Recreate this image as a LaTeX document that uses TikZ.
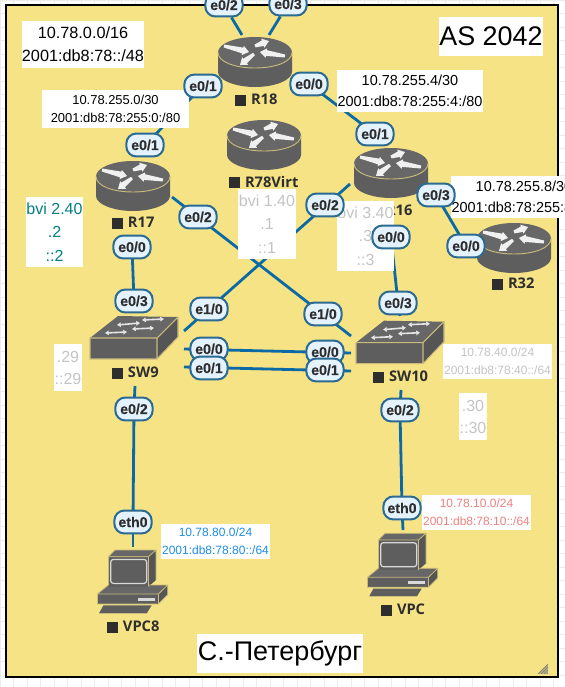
\documentclass[tikz,border=0pt]{standalone}
\usepackage{fontspec}
\setmainfont{Liberation Sans}
\newfontfamily\labfont{Open Sans}
\newfontfamily\pillfont[FakeBold=0.25]{Liberation Sans Bold}
\usetikzlibrary{arrows.meta}
\definecolor{yel}{HTML}{F5E386}
\definecolor{linkc}{HTML}{0B6AA5}
\definecolor{pillfill}{HTML}{E3F2FD}
\definecolor{pilledge}{HTML}{2A6A93}
\definecolor{devdark}{HTML}{5E5E5E}
\definecolor{devtop}{HTML}{676767}
\definecolor{rim}{HTML}{C9BB7C}
\definecolor{labc}{HTML}{2E2E2E}
\definecolor{greyt}{HTML}{C4C4C4}
\definecolor{tealt}{HTML}{008080}
\definecolor{bluet}{HTML}{1E8CE6}
\definecolor{pinkt}{HTML}{F08080}
\pgfdeclarelayer{back}\pgfdeclarelayer{links}\pgfdeclarelayer{dev}\pgfdeclarelayer{boxes}
\pgfsetlayers{back,links,dev,boxes,main}
\newcommand{\tarrow}[4]{%
  \pgfmathsetmacro\tang{atan2(-(#4-(#2)),#3-(#1))}%
  \pgfmathsetmacro\tlen{veclen(#3-(#1),#4-(#2))}%
  \fill[white!94!black,shift={(#1,#2)},rotate=\tang] (0,1.5) -- ({\tlen-6.5},2.9) -- ({\tlen-6.5},4.8) -- (\tlen,0) -- ({\tlen-6.5},-4.8) -- ({\tlen-6.5},-2.9) -- (0,-1.5) -- cycle;}
\tikzset{
  linkline/.style={draw=linkc,line width=2.1pt},
  pill/.style={draw=pilledge,fill=pillfill,line width=1.5pt,rounded corners=7.5pt,minimum width=28pt,minimum height=17.2pt,inner sep=0pt,text=labc,font=\pillfont\fontsize{10.6}{12}\selectfont},
  infobox/.style={fill=white,inner sep=0pt,align=center},
  devlabel/.style={anchor=west,inner sep=0pt,text=labc,font=\labfont\fontsize{11}{12}\selectfont\bfseries},
  devnode/.style={inner sep=0pt,minimum width=50pt,minimum height=36pt},
  thinarrow/.style={draw=white!90!black,line width=1.2pt,{Triangle[length=2.8pt,width=3.4pt]}-{Triangle[length=2.8pt,width=3.4pt]}},
  routerpic/.pic={
    \fill[devdark] (-37,-9.5) -- (-37,10) .. controls (-37,18) and (-20,25) .. (0,25) .. controls (20,25) and (37,18) .. (37,10) -- (37,-9.5) -- cycle;
    \fill[devtop] (0,-9.5) ellipse [x radius=37,y radius=15.5];
    \draw[rim,line width=.7pt] (-37,-9.5) .. controls (-37,0) and (-20,6) .. (0,6) .. controls (20,6) and (37,0) .. (37,-9.5);
    \tarrow{-31}{-16}{-6}{-10}
    \tarrow{0}{-16}{14}{-21}
    \tarrow{30}{-6}{5}{-10}
    \tarrow{-1}{-8}{-15}{3}
  },
  switchpic/.pic={
    \fill[devdark] (-44,0) -- (23,0) -- (23,21) -- (-44,21) -- cycle;
    \fill[devtop] (-44,0) -- (23,0) -- (44,-21) -- (-16,-22) -- cycle;
    \fill[devdark!90!black] (23,0) -- (44,-21) -- (44,-1) -- (23,21) -- cycle;
    \draw[rim,line width=.8pt,line join=round] (-44,21) -- (-44,0) -- (23,0) -- (23,21) -- (-44,21) (23,0) -- (44,-21) -- (44,-1) -- (23,21);
    \draw[thinarrow] (-17,-13) -- (6,-15);
    \draw[thinarrow] (8,-18) -- (30,-19);
    \draw[thinarrow] (-29,-5) -- (-7,-6);
    \draw[thinarrow] (-2,-9) -- (20,-10);
  },
  pcpic/.pic={
    \fill[devtop] (-24.3,-25) -- (-17.7,-31.7) -- (23.3,-31.7) -- (15.7,-25) -- cycle;
    \fill[devdark!90!black] (15.7,-25) -- (23.3,-31.7) -- (23.3,-1.7) -- (15.7,5) -- cycle;
    \fill[devtop] (-35.3,12.3) -- (-24.3,3.3) -- (35,3.3) -- (25.7,12.3) -- cycle;
    \fill[devdark!90!black] (25.7,12.3) -- (35,3.3) -- (35,13) -- (25.7,22.3) -- cycle;
    \fill[devdark] (-35.3,12.3) rectangle (25.7,22.3);
    \fill[devdark] (-24.3,-25) rectangle (15.7,5);
    \draw[rim,line width=.6pt,line join=round] (-24.3,3.3) -- (-24.3,-25) -- (15.7,-25) -- (15.7,5) (15.7,-25) -- (23.3,-31.7) -- (23.3,-1.7) (23.3,-31.7) -- (-17.7,-31.7) -- (-24.3,-25);
    \draw[rim,line width=.6pt,line join=round] (-35.3,12.3) -- (-24.3,3.3) (35,3.3) -- (25.7,12.3) -- (-35.3,12.3) -- (-35.3,22.3) -- (25.7,22.3) -- (25.7,12.3) (25.7,22.3) -- (35,13) -- (35,3.3) -- (15.7,3.3);
    \draw[white!85!black,line width=.9pt,rounded corners=2pt,fill=devdark] (-22,-22.3) rectangle (14,1.7);
    \fill[white!85!black] (5.7,16) rectangle (22.3,19);
    \fill[devdark] (-29.3,23.6) -- (19,23.6) -- (14,31.7) -- (-33.7,31.7) -- cycle;
    \draw[rim,line width=.6pt] (-33.7,31.7) -- (14,31.7);
  }
}
\newcommand{\infobox}[9]{%
  \node[infobox,text=#6,minimum width={(#4-#2)*0.75pt},minimum height={(#5-#3)*0.75pt},font=\fontsize{#7}{#8}\selectfont] (#1) at ({(#2+#4)/2},{(#3+#5)/2}) {#9};}
\newcommand{\devlab}[4]{%
  \node[devlabel] (#1) at (#2,#3) {\textcolor{labc}{\rule[-0.8pt]{8.2pt}{8.4pt}}\hspace{3.6pt}#4};}
\begin{document}
\begin{tikzpicture}[x=0.75pt,y=-0.75pt]
\useasboundingbox (0,0) rectangle (565,687);
% ---- page background
\begin{pgfonlayer}{back}
\fill[white] (0,0) rectangle (565,687);
\foreach \gx in {0,13.5,...,565} \draw[black!7,line width=.6pt] (\gx,0) -- (\gx,687);
\foreach \gy in {0,13.5,...,687} \draw[black!7,line width=.6pt] (0,\gy) -- (565,\gy);
\draw[fill=yel,draw=black,line width=1.1pt] (6,5) rectangle (558,677);
\draw[black,line width=1.8pt] (558,5) -- (558,677) -- (6,677);
\foreach \h in {0,1.5,...,9} \draw[black!55,line width=.5pt] (548,{664+\h}) -- ({538+\h},674);
\end{pgfonlayer}
% ---- pills (top layer)
\node[pill] (r18e02) at (224,5) {e0/2};
\node[pill] (r18e03) at (288,4) {e0/3};
\node[pill] (r18e01) at (203,86) {e0/1};
\node[pill] (r18e00) at (309,84) {e0/0};
\node[pill] (r17e01) at (145,145) {e0/1};
\node[pill] (r17e02) at (198,217) {e0/2};
\node[pill] (r17e00) at (132,247) {e0/0};
\node[pill] (r16e01) at (375,134) {e0/1};
\node[pill] (r16e02) at (325,205) {e0/2};
\node[pill] (r16e03) at (436,195) {e0/3};
\node[pill] (r16e00) at (391,237) {e0/0};
\node[pill] (r32e00) at (466,246) {e0/0};
\node[pill] (sw9e03) at (134,301) {e0/3};
\node[pill] (sw9e10) at (209,309) {e1/0};
\node[pill] (sw9e00) at (209,349) {e0/0};
\node[pill] (sw9e01) at (209,368) {e0/1};
\node[pill] (sw9e02) at (134,409) {e0/2};
\node[pill] (sw10e03) at (398,303) {e0/3};
\node[pill] (sw10e10) at (323,314) {e1/0};
\node[pill] (sw10e00) at (325,352) {e0/0};
\node[pill] (sw10e01) at (325,370) {e0/1};
\node[pill] (sw10e02) at (400,410) {e0/2};
\node[pill] (pc8eth) at (133,522) {eth0};
\node[pill] (pceth) at (402,508) {eth0};
% ---- devices
\begin{pgfonlayer}{dev}
\node[devnode] (R18) at (255,62) {};   \pic at (R18) {routerpic};
\node[devnode] (R78) at (264,145) {};  \pic at (R78) {routerpic};
\node[devnode] (R17) at (133,186) {};  \pic at (R17) {routerpic};
\node[devnode] (R16) at (391,173) {};  \pic at (R16) {routerpic};
\node[devnode] (R32) at (514,248) {};  \pic at (R32) {routerpic};
\node[devnode] (SW9) at (134,338) {};  \pic at (SW9) {switchpic};
\node[devnode] (SW10) at (400,342.7) {}; \pic at (SW10) {switchpic};
\node[devnode] (VPC8) at (132.7,581.7) {}; \pic at (VPC8) {pcpic};
\node[devnode] (VPC) at (402.7,565) {}; \pic at (VPC) {pcpic};
\devlab{lR18}{235}{100}{R18}
\devlab{lR78}{229}{182}{R78Virt}
\devlab{lR17}{112}{223}{R17}
\devlab{lR16}{370}{211}{R16}
\devlab{lR32}{492}{284}{R32}
\devlab{lSW9}{112}{373}{SW9}
\devlab{lSW10}{373}{377}{SW10}
\devlab{lVPC8}{107}{627}{VPC8}
\devlab{lVPC}{381}{610}{VPC}
\end{pgfonlayer}
% ---- free ends of the links
\coordinate (a1) at (242,35);
\coordinate (a2) at (269,35);
\coordinate (a3) at (172,197);
\coordinate (a4) at (351,336);
\coordinate (a5) at (350,184);
\coordinate (a6) at (184,331);
\coordinate (a7) at (184,349);
\coordinate (a8) at (351,353);
\coordinate (a9) at (184,367);
\coordinate (a10) at (351,371);
\coordinate (a12) at (135,386);
\coordinate (a13) at (133,547);
\coordinate (a14) at (400,316);
\coordinate (a15) at (401,390);
\coordinate (a16) at (403,530);
% ---- links
\begin{pgfonlayer}{links}
\draw[linkline] (r18e02) -- (a1);
\draw[linkline] (r18e03) -- (a2);
\draw[linkline] (r18e01.center) -- (r17e01.center);
\draw[linkline] (r18e00.center) -- (r16e01.center);
\draw[linkline] (r16e03.center) -- (r32e00.center);
\draw[linkline] (a3) -- (a4);
\draw[linkline] (a5) -- (a6);
\draw[linkline] (a7) -- (a8);
\draw[linkline] (a9) -- (a10);
\draw[linkline] (r17e00.center) -- (sw9e03.center);
\draw[linkline] (sw9e02.center) -- (pc8eth.center);
\draw[linkline] (pc8eth.center) -- (a13);
\draw[linkline] (r16e00.center) -- (sw10e03.center);
\draw[linkline] (sw10e03.center) -- (a14);
\draw[linkline] (sw10e02.center) -- (pceth.center);
\draw[linkline] (pceth.center) -- (a16);
\draw[linkline] (sw9e02.center) -- (a12);
\draw[linkline] (sw10e02.center) -- (a15);
\end{pgfonlayer}
% ---- white text boxes
\begin{pgfonlayer}{boxes}
\infobox{b1}{22}{21}{144}{68}{black}{12.2}{17.25}{10.78.0.0/16\\2001:db8:78::/48}
\infobox{b2}{42}{90}{189}{128}{black}{9.7}{14}{10.78.255.0/30\\2001:db8:78:255:0:/80}
\infobox{b3}{337}{70}{483}{112}{black}{10.85}{16}{10.78.255.4/30\\2001:db8:78:255:4:/80}
\infobox{b4}{451}{176}{597}{218}{black}{10.85}{16}{10.78.255.8/30\\2001:db8:78:255:8:/80}
\infobox{b5}{439}{17}{543}{56}{black}{20.2}{24}{AS 2042}
\infobox{b6}{197}{634}{363}{673}{black}{20.2}{24}{С.-Петербург}
\infobox{b7}{26}{197}{83}{267}{tealt}{12}{17.5}{bvi 2.40\\.2\\::2}
\infobox{b8}{238}{189}{296}{259}{greyt}{12}{17.5}{bvi 1.40\\.1\\::1}
\infobox{b9}{337}{201}{394}{271}{greyt}{12}{17.5}{bvi 3.40\\.3\\::3}
\infobox{b10}{54}{344}{82}{391}{greyt}{12}{16.5}{.29\\::29}
\infobox{b11}{459}{393}{487}{440}{greyt}{12}{16.5}{.30\\::30}
\infobox{b12}{443}{344}{552}{379}{greyt}{9}{13.2}{10.78.40.0/24\\2001:db8:78:40::/64}
\infobox{b13}{161}{524}{270}{559}{bluet}{9}{13.2}{10.78.80.0/24\\2001:db8:78:80::/64}
\infobox{b14}{422}{495}{531}{530}{pinkt}{9}{13.2}{10.78.10.0/24\\2001:db8:78:10::/64}
\end{pgfonlayer}
\end{tikzpicture}
\end{document}
